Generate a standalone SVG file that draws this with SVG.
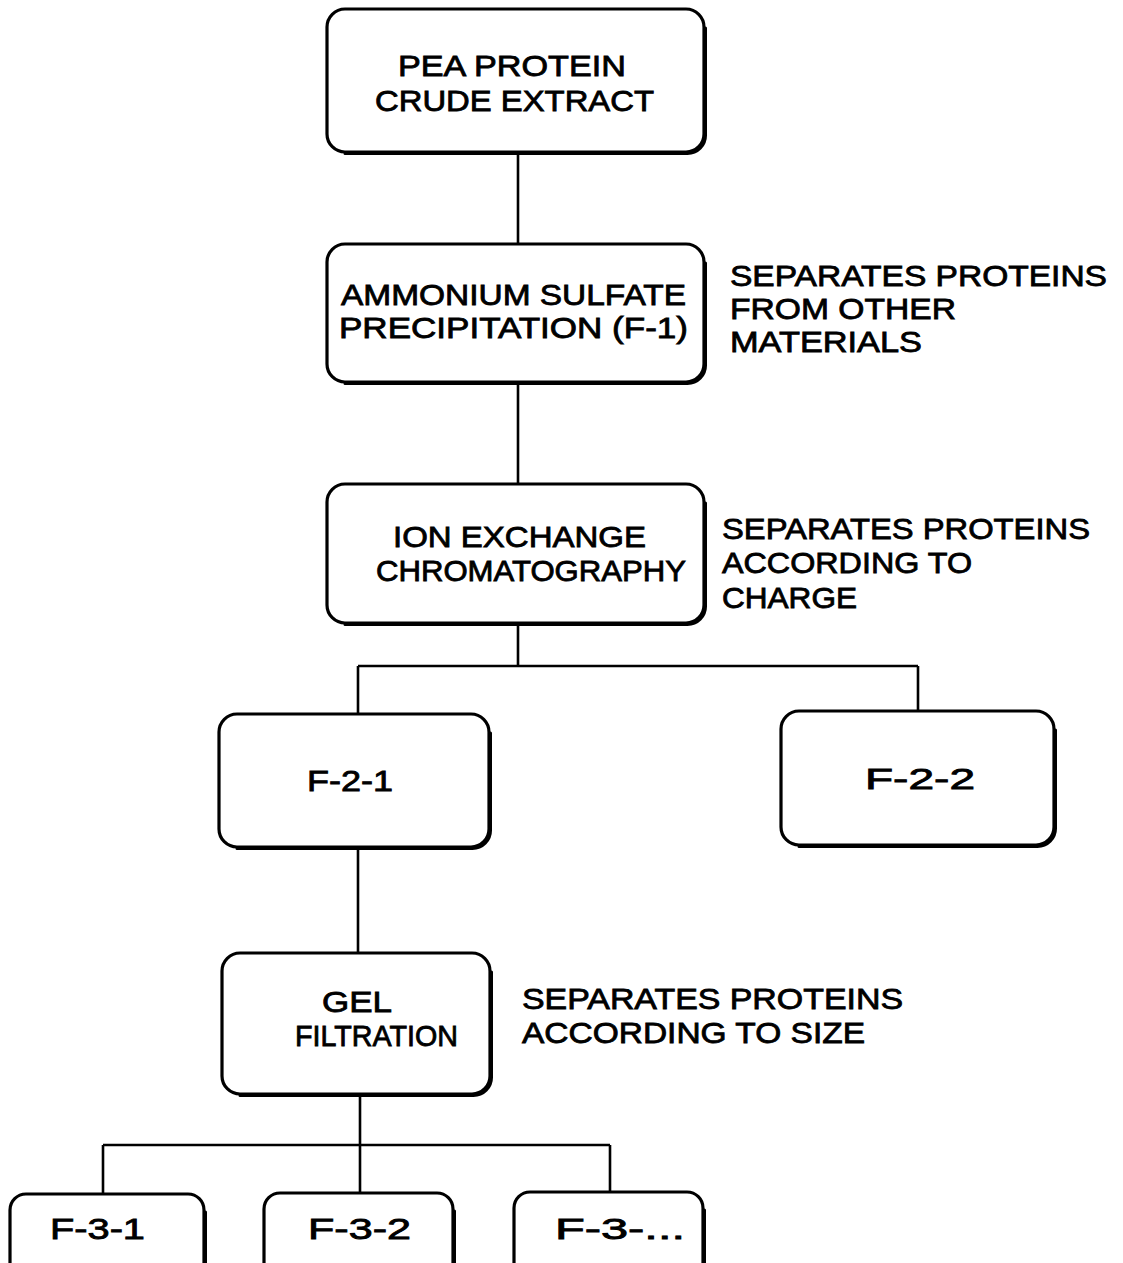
<svg xmlns="http://www.w3.org/2000/svg" width="1123" height="1263" viewBox="0 0 1123 1263">
  <style>
    .box { fill: #fff; stroke: #000; stroke-width: 3.2; }
    .edge { fill: none; stroke: #000; stroke-width: 3; stroke-linecap: round; }
    .wire { fill: none; stroke: #000; stroke-width: 2.6; }
    text { font-family: "Liberation Sans", Arial, sans-serif; font-size: 29px; fill: #000; stroke: #000; stroke-width: 0.8; }
  </style>
  <rect width="1123" height="1263" fill="#fff"/>

  <!-- connectors -->
  <g id="connectors">
    <path class="wire" d="M518 153 V244"/>
    <path class="wire" d="M518 382 V484"/>
    <path class="wire" d="M518 623 V666 M358 666 H918 M358 666 V714 M918 666 V711"/>
    <path class="wire" d="M358 847 V953"/>
    <path class="wire" d="M360 1094 V1145 M103 1145 H610 M103 1145 V1194 M360 1145 V1193 M610 1145 V1192"/>
  </g>

  <!-- process steps -->
  <g id="crude-extract">
    <rect class="box" x="327" y="9" width="377" height="143" rx="18"/>
    <path class="edge" d="M705.5 28 V135.5 A18 18 0 0 1 687.5 153.5 H345"/>
    <text x="398" y="76" textLength="228" lengthAdjust="spacingAndGlyphs">PEA PROTEIN</text>
    <text x="375" y="111" textLength="279" lengthAdjust="spacingAndGlyphs">CRUDE EXTRACT</text>
  </g>

  <g id="ammonium-sulfate">
    <rect class="box" x="327" y="244" width="377" height="138" rx="18"/>
    <path class="edge" d="M705.5 263 V365.5 A18 18 0 0 1 687.5 383.5 H345"/>
    <text x="341" y="305" textLength="345" lengthAdjust="spacingAndGlyphs">AMMONIUM SULFATE</text>
    <text x="339" y="338" textLength="349" lengthAdjust="spacingAndGlyphs">PRECIPITATION (F-1)</text>
  </g>
  <g id="note-ammonium">
    <text x="730" y="286" textLength="377" lengthAdjust="spacingAndGlyphs">SEPARATES PROTEINS</text>
    <text x="730" y="319" textLength="226" lengthAdjust="spacingAndGlyphs">FROM OTHER</text>
    <text x="730" y="352" textLength="192" lengthAdjust="spacingAndGlyphs">MATERIALS</text>
  </g>

  <g id="ion-exchange">
    <rect class="box" x="327" y="484" width="377" height="139" rx="18"/>
    <path class="edge" d="M705.5 503 V606.5 A18 18 0 0 1 687.5 624.5 H345"/>
    <text x="393" y="547" textLength="253" lengthAdjust="spacingAndGlyphs">ION EXCHANGE</text>
    <text x="376" y="581" textLength="310" lengthAdjust="spacingAndGlyphs">CHROMATOGRAPHY</text>
  </g>
  <g id="note-ion-exchange">
    <text x="722" y="539" textLength="368" lengthAdjust="spacingAndGlyphs">SEPARATES PROTEINS</text>
    <text x="722" y="573" textLength="250" lengthAdjust="spacingAndGlyphs">ACCORDING TO</text>
    <text x="722" y="608" textLength="135" lengthAdjust="spacingAndGlyphs">CHARGE</text>
  </g>

  <g id="f-2-1">
    <rect class="box" x="219" y="714" width="270" height="133" rx="18"/>
    <path class="edge" d="M490.5 733 V830.5 A18 18 0 0 1 472.5 848.5 H237"/>
    <text x="307" y="791" textLength="86" lengthAdjust="spacingAndGlyphs">F-2-1</text>
  </g>

  <g id="f-2-2">
    <rect class="box" x="781" y="711" width="273" height="134" rx="18"/>
    <path class="edge" d="M1055.5 730 V828.5 A18 18 0 0 1 1037.5 846.5 H799"/>
    <text x="865" y="789" textLength="110" lengthAdjust="spacingAndGlyphs">F-2-2</text>
  </g>

  <g id="gel-filtration">
    <rect class="box" x="222" y="953" width="268" height="141" rx="18"/>
    <path class="edge" d="M491.5 972 V1077.5 A18 18 0 0 1 473.5 1095.5 H240"/>
    <text x="322" y="1012" textLength="70" lengthAdjust="spacingAndGlyphs">GEL</text>
    <text x="295" y="1046" textLength="163" lengthAdjust="spacingAndGlyphs">FILTRATION</text>
  </g>
  <g id="note-gel">
    <text x="522" y="1009" textLength="381" lengthAdjust="spacingAndGlyphs">SEPARATES PROTEINS</text>
    <text x="522" y="1043" textLength="343" lengthAdjust="spacingAndGlyphs">ACCORDING TO SIZE</text>
  </g>

  <g id="f-3-1">
    <rect class="box" x="10" y="1194" width="194" height="90" rx="16"/>
    <path class="edge" d="M205.5 1212 V1270"/>
    <text x="50" y="1239" textLength="95" lengthAdjust="spacingAndGlyphs">F-3-1</text>
  </g>

  <g id="f-3-2">
    <rect class="box" x="264" y="1193" width="189" height="90" rx="16"/>
    <path class="edge" d="M454.5 1211 V1270"/>
    <text x="308" y="1239" textLength="103" lengthAdjust="spacingAndGlyphs">F-3-2</text>
  </g>

  <g id="f-3-more">
    <rect class="box" x="514" y="1192" width="189" height="90" rx="16"/>
    <path class="edge" d="M704.5 1210 V1270"/>
    <text x="555" y="1239" textLength="130" lengthAdjust="spacingAndGlyphs">F-3-...</text>
  </g>
</svg>
